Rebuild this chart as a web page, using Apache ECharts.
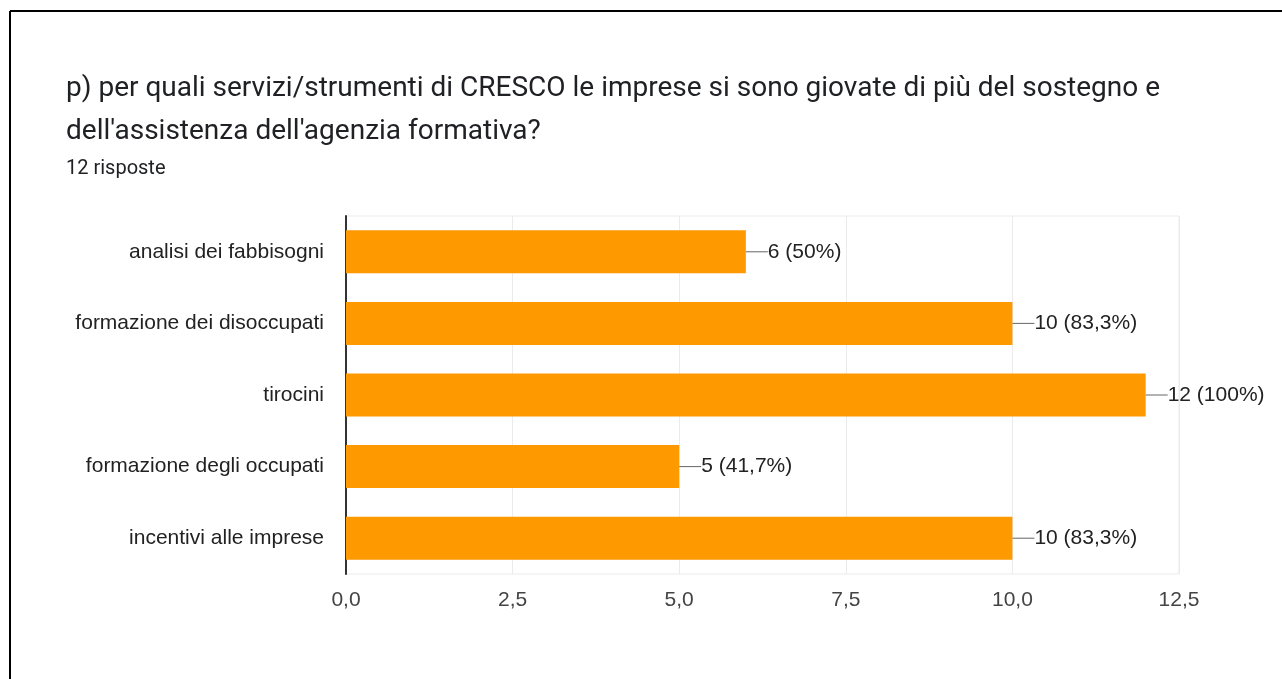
<!DOCTYPE html>
<html>
<head>
<meta charset="utf-8">
<script src="https://cdn.jsdelivr.net/npm/echarts@6/dist/echarts.min.js"></script>
<style>
  html, body { margin: 0; padding: 0; background: #fff; }
  #chart { width: 1282px; height: 679px; }
</style>
</head>
<body>
<div id="chart"></div>
<script>
// Survey answers: which CRESCO services benefited most from the agency's support
const categories = [
  "analisi dei fabbisogni",
  "formazione dei disoccupati",
  "tirocini",
  "formazione degli occupati",
  "incentivi alle imprese"
];
const counts = [6, 10, 12, 5, 10];
const totalResponses = 12;
const xTicks = [0, 2.5, 5, 7.5, 10, 12.5];

const titleLines = [
  "p) per quali servizi/strumenti di CRESCO le imprese si sono giovate di più del sostegno e",
  "dell'assistenza dell'agenzia formativa?"
];
const subtitle = totalResponses + " risposte";

function pctLabel(v) {
  const p = v / totalResponses * 100;
  const s = Number.isInteger(p) ? String(p) : p.toFixed(1).replace(".", ",");
  return v + " (" + s + "%)";
}

const chart = echarts.init(document.getElementById("chart"), null, { renderer: "canvas" });

chart.setOption({
  animation: false,
  backgroundColor: "#ffffff",
  title: {
    text: titleLines.join("\n"),
    subtext: subtitle,
    left: 61,
    top: 62,
    itemGap: 5,
    textStyle: {
      fontFamily: "Roboto",
      fontSize: 28,
      fontWeight: "normal",
      color: "#202124",
      lineHeight: 43
    },
    subtextStyle: {
      fontFamily: "Roboto",
      fontSize: 20,
      color: "#202124",
      lineHeight: 22
    }
  },
  graphic: [
    { type: "line", shape: { x1: 10, y1: 11, x2: 1282, y2: 11 }, style: { stroke: "#000", lineWidth: 2 } },
    { type: "line", shape: { x1: 10, y1: 11, x2: 10, y2: 679 }, style: { stroke: "#000", lineWidth: 2 } }
  ],
  grid: {
    left: 346,
    right: 103,
    top: 216,
    bottom: 105,
    show: true,
    borderColor: "#ebebeb",
    borderWidth: 1
  },
  xAxis: {
    type: "value",
    min: 0,
    max: 12.5,
    interval: 2.5,
    axisLine: { show: false },
    axisTick: { show: false },
    splitLine: { lineStyle: { color: "#ebebeb", width: 1 } },
    axisLabel: {
      margin: 16,
      fontFamily: "Liberation Sans",
      fontSize: 21,
      color: "#444444",
      formatter: v => xTicks.includes(v) ? v.toFixed(1).replace(".", ",") : ""
    }
  },
  yAxis: {
    type: "category",
    inverse: true,
    data: categories,
    axisLine: { show: true, lineStyle: { color: "#333333", width: 2 } },
    axisTick: { show: false },
    axisLabel: {
      margin: 22,
      fontFamily: "Liberation Sans",
      fontSize: 21,
      color: "#222222"
    }
  },
  series: [{
    type: "bar",
    data: counts,
    barWidth: "60%",
    itemStyle: { color: "#ff9900" },
    label: {
      show: true,
      position: "right",
      distance: 0,
      fontFamily: "Liberation Sans",
      fontSize: 21,
      color: "#222222",
      formatter: p => pctLabel(p.value)
    },
    labelLayout: { dx: 22 },
    labelLine: {
      show: true,
      lineStyle: { color: "#666666", width: 1 }
    }
  }]
});
</script>
</body>
</html>
